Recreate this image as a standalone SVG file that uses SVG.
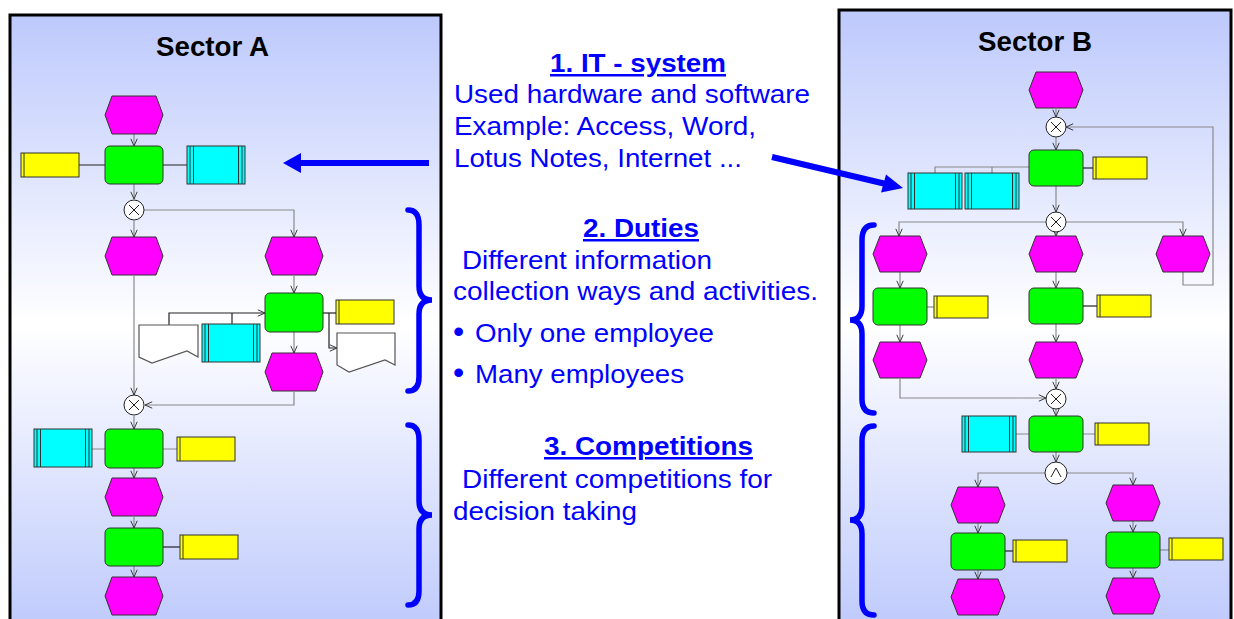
<svg xmlns="http://www.w3.org/2000/svg" xmlns:xlink="http://www.w3.org/1999/xlink" width="1234" height="619" viewBox="0 0 1234 619">
<style>
.ev{fill:#ff00ff;stroke:#333;stroke-width:1}
.fn{fill:#00ff00;stroke:#333;stroke-width:1}
.sys{fill:#00ffff;stroke:#333;stroke-width:1}
.org{fill:#ffff00;stroke:#333;stroke-width:1}
.doc{fill:#fff;stroke:#555;stroke-width:1.2}
.cn{fill:none;stroke:#8a8a8a;stroke-width:1.2}
.cb{fill:none;stroke:#222;stroke-width:1.2}
.op{fill:#fff;stroke:#222;stroke-width:1}
.br{fill:none;stroke:#0000ff;stroke-width:5.5;stroke-linecap:round}
.title{font-family:"Liberation Sans",Arial,sans-serif;font-weight:bold;font-size:28px;fill:#000}
.bt{font-family:"Liberation Sans",Arial,sans-serif;font-size:25px;fill:#0000ff}
.bul{font-family:"Liberation Sans",Arial,sans-serif;font-size:32px;fill:#0000ff}
.bh{font-family:"Liberation Sans",Arial,sans-serif;font-size:25px;font-weight:bold;fill:#0000ff;text-decoration:underline}
</style>
<defs>
<linearGradient id="pg" x1="0" y1="0" x2="0" y2="1">
<stop offset="0" stop-color="#bdc9fc"/>
<stop offset="0.5" stop-color="#ffffff"/>
<stop offset="1" stop-color="#bdc9fc"/>
</linearGradient>
<marker id="ar" viewBox="0 0 10 10" refX="10" refY="5" markerWidth="8" markerHeight="8" markerUnits="userSpaceOnUse" orient="auto">
<path d="M1,1 L10,5 L1,9" fill="none" stroke="#333" stroke-width="1.2"/>
</marker>
<polygon id="evA" points="0,19 7,0 51,0 58,19 51,38 7,38"/>
<polygon id="evB" points="0,18 7,0 47,0 54,18 47,36 7,36"/>
<g id="sysA"><rect x="0" y="0" width="58" height="38"/><path d="M3,0V38M6.5,0V38M51.5,0V38M55,0V38" fill="none"/></g>
<g id="sysB"><rect x="0" y="0" width="54" height="36"/><path d="M3,0V36M6.5,0V36M47.5,0V36M51,0V36" fill="none"/></g>
<g id="orgA"><rect x="0" y="0" width="58" height="24"/><path d="M3,0V24" fill="none"/></g>
<g id="orgB"><rect x="0" y="0" width="54" height="22"/><path d="M3,0V22" fill="none"/></g>
<g id="xor"><circle cx="0" cy="0" r="10"/><path d="M-5,-5L5,5M5,-5L-5,5" fill="none"/></g>
<g id="and"><circle cx="0" cy="0" r="11"/><path d="M-5,4L0,-5L5,4" fill="none"/></g>
</defs>

<rect x="0" y="0" width="1234" height="619" fill="#fff"/>

<g id="panelA">
<rect x="10" y="15" width="431" height="620" fill="url(#pg)" stroke="#000" stroke-width="3"/>
<text class="title" x="156" y="56" textLength="113" lengthAdjust="spacingAndGlyphs">Sector A</text>
</g>
<g id="panelB">
<rect x="839" y="10" width="392" height="625" fill="url(#pg)" stroke="#000" stroke-width="3"/>
<text class="title" x="978" y="51" textLength="114" lengthAdjust="spacingAndGlyphs">Sector B</text>
</g>

<g id="connectors">
<!-- Sector A -->
<path class="cn" d="M134,134V146" marker-end="url(#ar)"/>
<path class="cb" d="M79,165H105M163,165H187"/>
<path class="cn" d="M134,184V199" marker-end="url(#ar)"/>
<path class="cn" d="M134,221V237" marker-end="url(#ar)"/>
<path class="cn" d="M144,210H294V237" marker-end="url(#ar)"/>
<path class="cn" d="M134,276V395" marker-end="url(#ar)"/>
<path class="cn" d="M294,276V293" marker-end="url(#ar)"/>
<path class="cn" d="M294,332V353" marker-end="url(#ar)"/>
<path class="cn" d="M294,392V405H145" marker-end="url(#ar)"/>
<path class="cb" d="M169,325V313H265" marker-end="url(#ar)"/>
<path class="cb" d="M232,324V313"/>
<path class="cb" d="M322,313H336"/>
<path class="cb" d="M329,313V348H337" marker-end="url(#ar)"/>
<path class="cn" d="M134,416V429" marker-end="url(#ar)"/>
<path class="cn" d="M92,449H105M163,449H177"/>
<path class="cn" d="M134,468V478" marker-end="url(#ar)"/>
<path class="cn" d="M134,517V528" marker-end="url(#ar)"/>
<path class="cb" d="M163,547H180"/>
<path class="cn" d="M134,566V577" marker-end="url(#ar)"/>
<!-- Sector B -->
<path class="cn" d="M1056,109V117" marker-end="url(#ar)"/>
<path class="cn" d="M1183,272V285H1213V127H1066" marker-end="url(#ar)"/>
<path class="cn" d="M1056,137V150" marker-end="url(#ar)"/>
<path class="cb" d="M1083,168H1093"/>
<path class="cn" d="M1029,167H935V173M992,167V173"/>
<path class="cn" d="M1056,186V212" marker-end="url(#ar)"/>
<path class="cn" d="M1046,222H899V236" marker-end="url(#ar)"/>
<path class="cn" d="M1066,222H1183V236" marker-end="url(#ar)"/>
<path class="cn" d="M1056,232V236" marker-end="url(#ar)"/>
<path class="cn" d="M900,272V288" marker-end="url(#ar)"/>
<path class="cn" d="M927,307H934"/>
<path class="cn" d="M900,325V342" marker-end="url(#ar)"/>
<path class="cn" d="M900,379V398H1046" marker-end="url(#ar)"/>
<path class="cn" d="M1056,272V288" marker-end="url(#ar)"/>
<path class="cb" d="M1083,306H1097"/>
<path class="cn" d="M1056,324V342" marker-end="url(#ar)"/>
<path class="cn" d="M1056,379V389" marker-end="url(#ar)"/>
<path class="cn" d="M1056,409V416" marker-end="url(#ar)"/>
<path class="cn" d="M1016,434H1029M1083,434H1095"/>
<path class="cn" d="M1056,452V462" marker-end="url(#ar)"/>
<path class="cn" d="M1045,473H978V487" marker-end="url(#ar)"/>
<path class="cn" d="M1067,473H1133V485" marker-end="url(#ar)"/>
<path class="cn" d="M978,523V533" marker-end="url(#ar)"/>
<path class="cb" d="M1005,551H1013"/>
<path class="cn" d="M978,570V579" marker-end="url(#ar)"/>
<path class="cn" d="M1133,521V532" marker-end="url(#ar)"/>
<path class="cn" d="M1160,550H1169"/>
<path class="cn" d="M1133,568V578" marker-end="url(#ar)"/>
</g>

<!-- Sector A nodes -->
<g id="a_ev1"><use href="#evA" class="ev" x="105" y="96"/></g>
<g id="a_fn1"><rect class="fn" x="105" y="146" width="58" height="38" rx="5"/></g>
<g id="a_org1"><use href="#orgA" class="org" x="21" y="153"/></g>
<g id="a_sys1"><use href="#sysA" class="sys" x="187" y="146"/></g>
<g id="a_xor1"><use href="#xor" class="op" x="134" y="210"/></g>
<g id="a_ev2"><use href="#evA" class="ev" x="105" y="237"/></g>
<g id="a_ev3"><use href="#evA" class="ev" x="265" y="237"/></g>
<g id="a_fn2"><rect class="fn" x="265" y="293" width="58" height="39" rx="5"/></g>
<g id="a_doc1"><path class="doc" d="M139,325V357L152,363L187,351L198,357V325Z"/></g>
<g id="a_sys2"><use href="#sysA" class="sys" x="202" y="324"/></g>
<g id="a_org2"><use href="#orgA" class="org" x="336" y="300"/></g>
<g id="a_doc2"><path class="doc" d="M337,333V365L349,372L385,360L395,365V333Z"/></g>
<g id="a_ev4"><use href="#evA" class="ev" x="265" y="353"/></g>
<g id="a_xor2"><use href="#xor" class="op" x="134" y="405"/></g>
<g id="a_fn3"><rect class="fn" x="105" y="429" width="58" height="39" rx="5"/></g>
<g id="a_sys3"><use href="#sysA" class="sys" x="34" y="429"/></g>
<g id="a_org3"><use href="#orgA" class="org" x="177" y="437"/></g>
<g id="a_ev5"><use href="#evA" class="ev" x="105" y="478"/></g>
<g id="a_fn4"><rect class="fn" x="105" y="528" width="58" height="38" rx="5"/></g>
<g id="a_org4"><use href="#orgA" class="org" x="180" y="535"/></g>
<g id="a_ev6"><use href="#evA" class="ev" x="105" y="577"/></g>

<!-- Sector B nodes -->
<g id="b_ev1"><use href="#evB" class="ev" x="1029" y="72"/></g>
<g id="b_xor1"><use href="#xor" class="op" x="1056" y="127"/></g>
<g id="b_fn1"><rect class="fn" x="1029" y="150" width="54" height="36" rx="5"/></g>
<g id="b_org1"><use href="#orgB" class="org" x="1093" y="157"/></g>
<g id="b_sys1"><use href="#sysB" class="sys" x="908" y="173"/></g>
<g id="b_sys2"><use href="#sysB" class="sys" x="965" y="173"/></g>
<g id="b_xor2"><use href="#xor" class="op" x="1056" y="222"/></g>
<g id="b_ev2"><use href="#evB" class="ev" x="873" y="236"/></g>
<g id="b_ev3"><use href="#evB" class="ev" x="1029" y="236"/></g>
<g id="b_ev4"><use href="#evB" class="ev" x="1156" y="236"/></g>
<g id="b_fn2"><rect class="fn" x="873" y="288" width="54" height="37" rx="5"/></g>
<g id="b_org2"><use href="#orgB" class="org" x="934" y="296"/></g>
<g id="b_fn3"><rect class="fn" x="1029" y="288" width="54" height="36" rx="5"/></g>
<g id="b_org3"><use href="#orgB" class="org" x="1097" y="295"/></g>
<g id="b_ev5"><use href="#evB" class="ev" x="873" y="342"/></g>
<g id="b_ev6"><use href="#evB" class="ev" x="1029" y="342"/></g>
<g id="b_xor3"><use href="#xor" class="op" x="1056" y="399"/></g>
<g id="b_fn4"><rect class="fn" x="1029" y="416" width="54" height="36" rx="5"/></g>
<g id="b_sys3"><use href="#sysB" class="sys" x="962" y="416"/></g>
<g id="b_org4"><use href="#orgB" class="org" x="1095" y="423"/></g>
<g id="b_and"><use href="#and" class="op" x="1056" y="473"/></g>
<g id="b_ev7"><use href="#evB" class="ev" x="951" y="487"/></g>
<g id="b_ev8"><use href="#evB" class="ev" x="1106" y="485"/></g>
<g id="b_fn5"><rect class="fn" x="951" y="533" width="54" height="37" rx="5"/></g>
<g id="b_org5"><use href="#orgB" class="org" x="1013" y="540"/></g>
<g id="b_fn6"><rect class="fn" x="1106" y="532" width="54" height="36" rx="5"/></g>
<g id="b_org6"><use href="#orgB" class="org" x="1169" y="538"/></g>
<g id="b_ev9"><use href="#evB" class="ev" x="951" y="579"/></g>
<g id="b_ev10"><use href="#evB" class="ev" x="1106" y="578"/></g>

<!-- Braces -->
<g id="braces">
<path class="br" d="M408,210Q419,210 419,225L419,286Q419,300 432,300Q419,300 419,314L419,377Q419,391 408,391"/>
<path class="br" d="M408,425Q419,425 419,440L419,501Q419,515 432,515Q419,515 419,529L419,591Q419,605 408,605"/>
<path class="br" d="M874,225Q862,225 862,240L862,306Q862,320 850,320Q862,320 862,334L862,399Q862,413 874,413"/>
<path class="br" d="M874,426Q862,426 862,441L862,506Q862,520 850,520Q862,520 862,534L862,601Q862,615 874,615"/>
</g>

<!-- Blue arrows -->
<g id="arrows" fill="#0000ff" stroke="#0000ff">
<line x1="429" y1="163" x2="298" y2="163" stroke-width="6"/>
<polygon points="283,163 301,153 301,173" stroke="none"/>
<line x1="772" y1="157" x2="886" y2="184" stroke-width="6"/>
<polygon points="903,188 881,192.5 886,174.5" stroke="none"/>
</g>

<!-- Text -->
<g id="notes">
<text class="bh" x="550" y="72" textLength="176" lengthAdjust="spacingAndGlyphs">1. IT - system</text>
<text class="bt" x="454" y="103" textLength="356" lengthAdjust="spacingAndGlyphs">Used hardware and software</text>
<text class="bt" x="454" y="135" textLength="302" lengthAdjust="spacingAndGlyphs">Example: Access, Word,</text>
<text class="bt" x="454" y="167" textLength="288" lengthAdjust="spacingAndGlyphs">Lotus Notes, Internet ...</text>
<text class="bh" x="583" y="237" textLength="116" lengthAdjust="spacingAndGlyphs">2. Duties</text>
<text class="bt" x="462" y="269" textLength="250" lengthAdjust="spacingAndGlyphs">Different information</text>
<text class="bt" x="453" y="300" textLength="365" lengthAdjust="spacingAndGlyphs">collection ways and activities.</text>
<text class="bul" x="453" y="342">•</text>
<text class="bt" x="475" y="342" textLength="239" lengthAdjust="spacingAndGlyphs">Only one employee</text>
<text class="bul" x="453" y="383">•</text>
<text class="bt" x="475" y="383" textLength="209" lengthAdjust="spacingAndGlyphs">Many employees</text>
<text class="bh" x="544" y="455" textLength="209" lengthAdjust="spacingAndGlyphs">3. Competitions</text>
<text class="bt" x="462" y="488" textLength="310" lengthAdjust="spacingAndGlyphs">Different competitions for</text>
<text class="bt" x="453" y="520" textLength="184" lengthAdjust="spacingAndGlyphs">decision taking</text>
</g>
</svg>
